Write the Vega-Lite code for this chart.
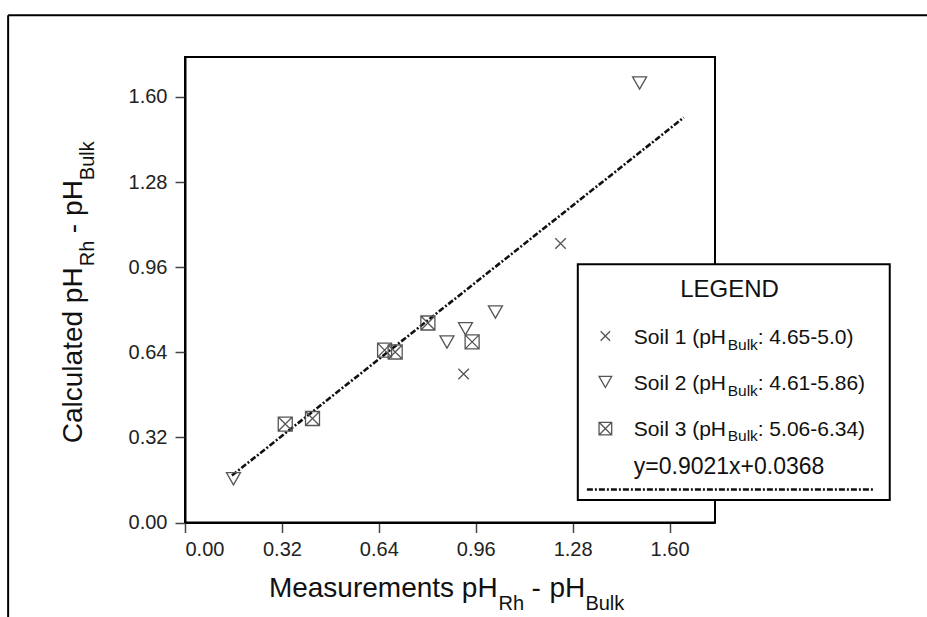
{
  "$schema": "https://vega.github.io/schema/vega-lite/v6.json",
  "autosize": {"type": "none"},
  "padding": {"left": 185, "top": 57, "right": 212, "bottom": 95},
  "width": 530,
  "height": 465.5,
  "background": "white",
  "datasets": {
    "points": [
      {"soil": "Soil 1", "x": 0.920, "y": 0.558},
      {"soil": "Soil 1", "x": 1.240, "y": 1.049},
      {"soil": "Soil 2", "x": 0.160, "y": 0.165},
      {"soil": "Soil 2", "x": 0.865, "y": 0.679},
      {"soil": "Soil 2", "x": 0.926, "y": 0.729},
      {"soil": "Soil 2", "x": 1.025, "y": 0.792},
      {"soil": "Soil 2", "x": 1.501, "y": 1.653},
      {"soil": "Soil 3", "x": 0.331, "y": 0.370},
      {"soil": "Soil 3", "x": 0.421, "y": 0.391},
      {"soil": "Soil 3", "x": 0.659, "y": 0.648},
      {"soil": "Soil 3", "x": 0.694, "y": 0.641},
      {"soil": "Soil 3", "x": 0.802, "y": 0.750},
      {"soil": "Soil 3", "x": 0.948, "y": 0.679}
    ],
    "fit": [{"x": 0.155, "y": 0.1766}, {"x": 1.647, "y": 1.5226}],
    "frame": [
      {"x": -0.584, "x2": 2.7, "y": 1.907, "y2": 1.907},
      {"x": -0.584, "x2": -0.584, "y": 1.907, "y2": -0.5}
    ],
    "legendbox": [{"x": 1.297, "x2": 2.327, "y": 0.971, "y2": 0.085}],
    "legendsym": [
      {"soil": "Soil 1", "x": 1.388, "y": 0.701},
      {"soil": "Soil 2", "x": 1.388, "y": 0.529},
      {"soil": "Soil 3", "x": 1.388, "y": 0.353}
    ],
    "legendline": [{"x": 1.327, "x2": 2.275, "y": 0.124}],
    "legendtitle": [{"x": 1.798, "y": 0.848, "t": "LEGEND"}],
    "legendmain": [
      {"x": 1.482, "y": 0.670, "t": "Soil 1 (pH"},
      {"x": 1.891, "y": 0.670, "t": ": 4.65-5.0)"},
      {"x": 1.482, "y": 0.500, "t": "Soil 2 (pH"},
      {"x": 1.891, "y": 0.500, "t": ": 4.61-5.86)"},
      {"x": 1.482, "y": 0.327, "t": "Soil 3 (pH"},
      {"x": 1.891, "y": 0.327, "t": ": 5.06-6.34)"}
    ],
    "legendeq": [{"x": 1.482, "y": 0.184, "t": "y=0.9021x+0.0368"}],
    "legendsub": [
      {"x": 1.792, "y": 0.648, "t": "Bulk"},
      {"x": 1.792, "y": 0.477, "t": "Bulk"},
      {"x": 1.792, "y": 0.305, "t": "Bulk"}
    ],
    "xtitlemain": [
      {"x": 0.277, "y": -0.281, "t": "Measurements pH"},
      {"x": 1.144, "y": -0.281, "t": "-"},
      {"x": 1.2033, "y": -0.281, "t": "pH"}
    ],
    "xtitlesub": [
      {"x": 1.035, "y": -0.33, "t": "Rh"},
      {"x": 1.322, "y": -0.33, "t": "Bulk"}
    ],
    "ytitlemain": [
      {"x": -0.3415, "y": 0.298, "t": "Calculated pH"},
      {"x": -0.3415, "y": 1.0876, "t": "-"},
      {"x": -0.3415, "y": 1.1526, "t": "pH"}
    ],
    "ytitlesub": [
      {"x": -0.299, "y": 0.9635, "t": "Rh"},
      {"x": -0.299, "y": 1.287, "t": "Bulk"}
    ]
  },
  "config": {
    "view": {"stroke": "black", "strokeWidth": 2},
    "axis": {
      "grid": false,
      "domainColor": "black",
      "domainWidth": 2,
      "tickColor": "#444",
      "tickWidth": 1.5,
      "tickSize": 10,
      "labelFont": "Liberation Sans",
      "labelFontSize": 20,
      "labelColor": "#222",
      "title": null
    }
  },
  "encoding": {
    "x": {"type": "quantitative", "scale": {"domain": [0, 1.75], "nice": false, "zero": false},
          "axis": {"values": [0, 0.32, 0.64, 0.96, 1.28, 1.6], "format": ".2f", "labelPadding": 7, "title": null}},
    "y": {"type": "quantitative", "scale": {"domain": [0, 1.75], "nice": false, "zero": false},
          "axis": {"values": [0, 0.32, 0.64, 0.96, 1.28, 1.6], "format": ".2f", "labelPadding": 8, "title": null}}
  },
  "layer": [
    {
      "data": {"name": "frame"},
      "mark": {"type": "rule", "stroke": "black", "strokeWidth": 2, "clip": false},
      "encoding": {"x": {"field": "x", "type": "quantitative"}, "x2": {"field": "x2"}, "y": {"field": "y", "type": "quantitative"}, "y2": {"field": "y2"}}
    },
    {
      "data": {"name": "fit"},
      "mark": {"type": "line", "stroke": "#111", "strokeWidth": 2.6, "strokeDash": [6, 2, 2, 2]},
      "encoding": {"x": {"field": "x", "type": "quantitative"}, "y": {"field": "y", "type": "quantitative"}}
    },
    {
      "data": {"name": "points"},
      "mark": {"type": "point", "filled": false, "stroke": "#555", "strokeWidth": 1.3, "size": 196, "opacity": 1},
      "encoding": {
        "x": {"field": "x", "type": "quantitative"},
        "y": {"field": "y", "type": "quantitative"},
        "shape": {"field": "soil", "type": "nominal", "legend": null,
          "scale": {"domain": ["Soil 1", "Soil 2", "Soil 3"],
                    "range": ["M-0.75,-0.75L0.75,0.75M-0.75,0.75L0.75,-0.75", "M-1,-0.85L1,-0.85L0,0.9Z", "M-1,-1H1V1H-1ZM-1,-1L1,1M-1,1L1,-1"]}}
      }
    },
    {
      "data": {"name": "legendbox"},
      "mark": {"type": "rect", "fill": "white", "stroke": "black", "strokeWidth": 2, "clip": false},
      "encoding": {"x": {"field": "x", "type": "quantitative"}, "x2": {"field": "x2"}, "y": {"field": "y", "type": "quantitative"}, "y2": {"field": "y2"}}
    },
    {
      "data": {"name": "legendsym"},
      "mark": {"type": "point", "filled": false, "stroke": "#555", "strokeWidth": 1.3, "size": 160, "opacity": 1, "clip": false},
      "encoding": {
        "x": {"field": "x", "type": "quantitative"},
        "y": {"field": "y", "type": "quantitative"},
        "shape": {"field": "soil", "type": "nominal", "legend": null}
      }
    },
    {
      "data": {"name": "legendline"},
      "mark": {"type": "rule", "stroke": "#111", "strokeWidth": 2.4, "strokeDash": [6, 2, 2, 2], "clip": false},
      "encoding": {"x": {"field": "x", "type": "quantitative"}, "x2": {"field": "x2"}, "y": {"field": "y", "type": "quantitative"}}
    },
    {
      "data": {"name": "legendtitle"},
      "mark": {"type": "text", "align": "center", "baseline": "alphabetic", "font": "Liberation Sans", "fontSize": 24, "color": "#111", "clip": false},
      "encoding": {"x": {"field": "x", "type": "quantitative"}, "y": {"field": "y", "type": "quantitative"}, "text": {"field": "t"}}
    },
    {
      "data": {"name": "legendmain"},
      "mark": {"type": "text", "align": "left", "baseline": "alphabetic", "font": "Liberation Sans", "fontSize": 21, "color": "#111", "clip": false},
      "encoding": {"x": {"field": "x", "type": "quantitative"}, "y": {"field": "y", "type": "quantitative"}, "text": {"field": "t"}}
    },
    {
      "data": {"name": "legendeq"},
      "mark": {"type": "text", "align": "left", "baseline": "alphabetic", "font": "Liberation Sans", "fontSize": 23, "color": "#111", "clip": false},
      "encoding": {"x": {"field": "x", "type": "quantitative"}, "y": {"field": "y", "type": "quantitative"}, "text": {"field": "t"}}
    },
    {
      "data": {"name": "legendsub"},
      "mark": {"type": "text", "align": "left", "baseline": "alphabetic", "font": "Liberation Sans", "fontSize": 15.5, "color": "#111", "clip": false},
      "encoding": {"x": {"field": "x", "type": "quantitative"}, "y": {"field": "y", "type": "quantitative"}, "text": {"field": "t"}}
    },
    {
      "data": {"name": "xtitlemain"},
      "mark": {"type": "text", "align": "left", "baseline": "alphabetic", "font": "Liberation Sans", "fontSize": 28, "color": "#111", "clip": false},
      "encoding": {"x": {"field": "x", "type": "quantitative"}, "y": {"field": "y", "type": "quantitative"}, "text": {"field": "t"}}
    },
    {
      "data": {"name": "xtitlesub"},
      "mark": {"type": "text", "align": "left", "baseline": "alphabetic", "font": "Liberation Sans", "fontSize": 20, "color": "#111", "clip": false},
      "encoding": {"x": {"field": "x", "type": "quantitative"}, "y": {"field": "y", "type": "quantitative"}, "text": {"field": "t"}}
    },
    {
      "data": {"name": "ytitlemain"},
      "mark": {"type": "text", "align": "left", "baseline": "alphabetic", "angle": 270, "font": "Liberation Sans", "fontSize": 28, "color": "#111", "clip": false},
      "encoding": {"x": {"field": "x", "type": "quantitative"}, "y": {"field": "y", "type": "quantitative"}, "text": {"field": "t"}}
    },
    {
      "data": {"name": "ytitlesub"},
      "mark": {"type": "text", "align": "left", "baseline": "alphabetic", "angle": 270, "font": "Liberation Sans", "fontSize": 20, "color": "#111", "clip": false},
      "encoding": {"x": {"field": "x", "type": "quantitative"}, "y": {"field": "y", "type": "quantitative"}, "text": {"field": "t"}}
    }
  ]
}
